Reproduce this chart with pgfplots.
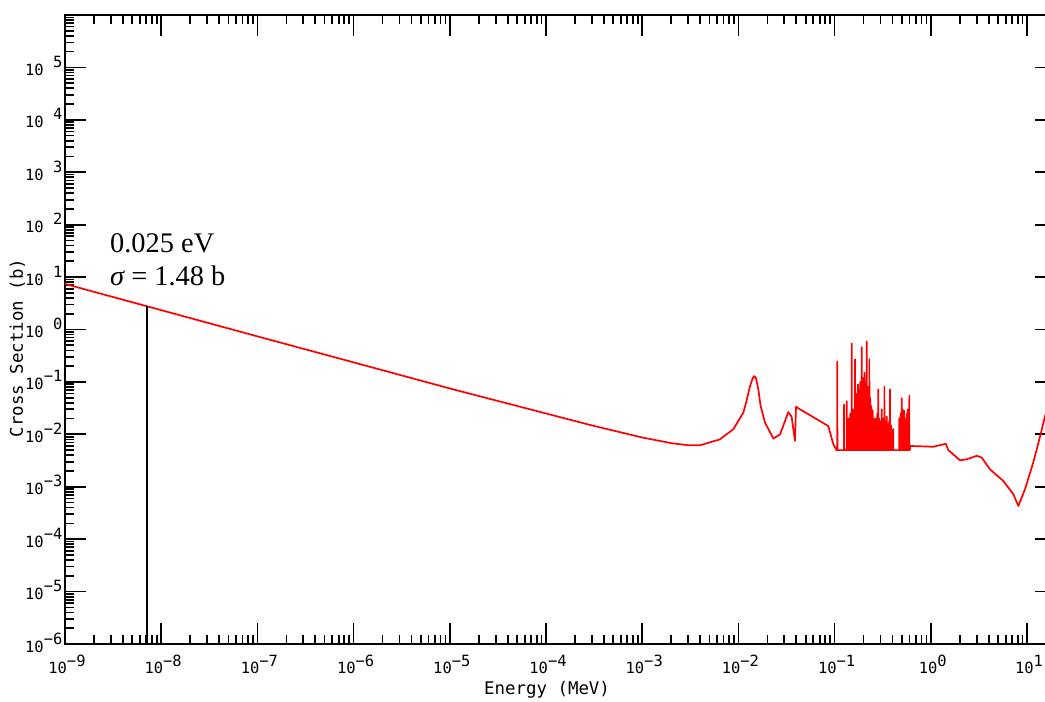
\documentclass[border=0pt]{standalone}
\usepackage{fontspec}
\setmainfont{Liberation Serif}
\newfontfamily\mono{DejaVu Sans Mono}
\usepackage{pgfplots}
\pgfplotsset{compat=1.18}
% x tick labels: centred on the tick
\newcommand\xl[1]{{\mono\fontsize{15.5}{16}\selectfont 10\raisebox{7bp}{#1}}}
% y tick labels: left aligned; positive exponent leaves the place of the sign empty
\newcommand\ylneg[1]{{\mono\fontsize{15.5}{16}\selectfont 10\raisebox{8bp}{−#1}}}
\newcommand\ylpos[1]{{\mono\fontsize{15.5}{16}\selectfont 10\raisebox{8bp}{\phantom{−}#1}}}
\begin{document}
\begin{tikzpicture}
\useasboundingbox (0,0) rectangle (1045bp,702bp);
\begin{axis}[
  at={(65bp,58bp)}, anchor=south west,
  scale only axis, width=991bp, height=629bp,
  xmode=log, ymode=log,
  xmin=1e-9, xmax=20, ymin=1e-6, ymax=1e6,
  xtick={1e-9,1e-8,1e-7,1e-6,1e-5,1e-4,1e-3,1e-2,1e-1,1,10},
  xticklabels={\xl{−9},\xl{−8},\xl{−7},\xl{−6},\xl{−5},\xl{−4},\xl{−3},\xl{−2},\xl{−1},\xl{0},\xl{1}},
  ytick={1e-6,1e-5,1e-4,1e-3,1e-2,1e-1,1,10,100,1000,1e4,1e5},
  yticklabels={\ylneg{6},\ylneg{5},\ylneg{4},\ylneg{3},\ylneg{2},\ylneg{1},\ylpos{0},\ylpos{1},\ylpos{2},\ylpos{3},\ylpos{4},\ylpos{5}},
  minor xtick={2e-9,3e-9,4e-9,5e-9,6e-9,7e-9,8e-9,9e-9,
    2e-8,3e-8,4e-8,5e-8,6e-8,7e-8,8e-8,9e-8,
    2e-7,3e-7,4e-7,5e-7,6e-7,7e-7,8e-7,9e-7,
    2e-6,3e-6,4e-6,5e-6,6e-6,7e-6,8e-6,9e-6,
    2e-5,3e-5,4e-5,5e-5,6e-5,7e-5,8e-5,9e-5,
    2e-4,3e-4,4e-4,5e-4,6e-4,7e-4,8e-4,9e-4,
    2e-3,3e-3,4e-3,5e-3,6e-3,7e-3,8e-3,9e-3,
    2e-2,3e-2,4e-2,5e-2,6e-2,7e-2,8e-2,9e-2,
    0.2,0.3,0.4,0.5,0.6,0.7,0.8,0.9,
    2,3,4,5,6,7,8,9},
  minor ytick={2e-6,3e-6,4e-6,5e-6,6e-6,7e-6,8e-6,9e-6,
    2e-5,3e-5,4e-5,5e-5,6e-5,7e-5,8e-5,9e-5,
    2e-4,3e-4,4e-4,5e-4,6e-4,7e-4,8e-4,9e-4,
    2e-3,3e-3,4e-3,5e-3,6e-3,7e-3,8e-3,9e-3,
    2e-2,3e-2,4e-2,5e-2,6e-2,7e-2,8e-2,9e-2,
    0.2,0.3,0.4,0.5,0.6,0.7,0.8,0.9,
    2,3,4,5,6,7,8,9,
    20,30,40,50,60,70,80,90,
    200,300,400,500,600,700,800,900,
    2e3,3e3,4e3,5e3,6e3,7e3,8e3,9e3,
    2e4,3e4,4e4,5e4,6e4,7e4,8e4,9e4,
    2e5,3e5,4e5,5e5,6e5,7e5,8e5,9e5},
  tick align=inside,
  xtick pos=both, ytick pos=both,
  xticklabel pos=lower, yticklabel pos=left,
  major tick length=21bp, minor tick length=9.5bp,
  every tick/.style={black, line width=1.7bp},
  axis line style={line width=2.4bp},
  xticklabel style={anchor=base, yshift=-29bp, xshift=2bp, inner sep=0pt},
  yticklabel style={anchor=base west, yshift=-8bp, xshift=-40bp, inner sep=0pt},
  xlabel={Energy (MeV)},
  ylabel={Cross Section (b)},
  xlabel style={at={(axis description cs:0.4864,-0.073)}, anchor=center, inner sep=0pt, font=\mono\fontsize{17.5}{18}\selectfont},
  ylabel style={at={(axis description cs:-0.0479,0.4706)}, anchor=center, inner sep=0pt, font=\mono\fontsize{17.5}{18}\selectfont},
]
\addplot[red, line width=1.7bp, line join=round] coordinates {
(1e-9,7.4) (1e-8,2.34) (1e-7,0.74) (1e-6,0.236) (1e-5,0.075) (1e-4,0.025)
(3e-4,0.0148) (1e-3,0.0087) (2e-3,0.0068) (3e-3,0.0062) (4e-3,0.0062)
(6.4e-3,0.008) (8.85e-3,0.0125) (1.125e-2,0.026) (1.2e-2,0.04) (1.32e-2,0.083)
(1.4e-2,0.115) (1.452e-2,0.129) (1.52e-2,0.12) (1.61e-2,0.072) (1.7e-2,0.035)
(1.89e-2,0.0167) (2.31e-2,0.0083) (2.71e-2,0.010) (3.3e-2,0.0266)
(3.57e-2,0.0217) (3.87e-2,0.0075) (3.97e-2,0.0337) (4.37e-2,0.030)
(8.59e-2,0.0144) (9.69e-2,0.0065) (0.1045,0.005)
(0.1065,0.005)(0.1067,0.245)(0.1069,0.005)
(0.125,0.005)(0.1253,0.037)(0.1256,0.005)
(0.1334,0.005)(0.1337,0.043)(0.134,0.005)
(0.1397,0.005)(0.14,0.02)(0.1403,0.005)
(0.1447,0.005)(0.145,0.025)(0.1453,0.005)
(0.1504,0.005)(0.1507,0.54)(0.151,0.005)
(0.1557,0.005)(0.156,0.03)(0.1563,0.005)
(0.1627,0.005)(0.163,0.27)(0.1633,0.005)
(0.1677,0.005)(0.168,0.05)(0.1683,0.005)
(0.1707,0.005)(0.171,0.06)(0.1713,0.005)
(0.1747,0.005)(0.175,0.089)(0.1753,0.005)
(0.1797,0.005)(0.18,0.07)(0.1803,0.005)
(0.1847,0.005)(0.185,0.1)(0.1853,0.005)
(0.1906,0.005)(0.191,0.46)(0.1914,0.005)
(0.1956,0.005)(0.196,0.12)(0.1964,0.005)
(0.1996,0.005)(0.2,0.11)(0.2004,0.005)
(0.2036,0.005)(0.204,0.151)(0.2044,0.005)
(0.2076,0.005)(0.208,0.09)(0.2084,0.005)
(0.2106,0.005)(0.211,0.1)(0.2114,0.005)
(0.2156,0.005)(0.216,0.59)(0.2164,0.005)
(0.2196,0.005)(0.22,0.06)(0.2204,0.005)
(0.2236,0.005)(0.224,0.08)(0.2244,0.005)
(0.2292,0.005)(0.2297,0.27)(0.2302,0.005)
(0.2335,0.005)(0.234,0.05)(0.2345,0.005)
(0.2395,0.005)(0.24,0.035)(0.2405,0.005)
(0.2435,0.005)(0.244,0.03)(0.2445,0.005)
(0.2485,0.005)(0.249,0.0275)(0.2495,0.005)
(0.2545,0.005)(0.255,0.02)(0.2555,0.005)
(0.2585,0.005)(0.259,0.018)(0.2595,0.005)
(0.2625,0.005)(0.263,0.0195)(0.2635,0.005)
(0.2675,0.005)(0.268,0.02)(0.2685,0.005)
(0.2725,0.005)(0.273,0.017)(0.2735,0.005)
(0.2775,0.005)(0.278,0.025)(0.2785,0.005)
(0.2835,0.005)(0.284,0.072)(0.2845,0.005)
(0.2895,0.005)(0.29,0.02)(0.2905,0.005)
(0.2955,0.005)(0.296,0.018)(0.2965,0.005)
(0.3015,0.005)(0.302,0.015)(0.3025,0.005)
(0.3085,0.005)(0.309,0.03)(0.3095,0.005)
(0.3145,0.005)(0.315,0.016)(0.3155,0.005)
(0.3215,0.005)(0.322,0.02)(0.3225,0.005)
(0.3285,0.005)(0.329,0.081)(0.3295,0.005)
(0.3355,0.005)(0.336,0.018)(0.3365,0.005)
(0.3415,0.005)(0.342,0.015)(0.3425,0.005)
(0.3475,0.005)(0.348,0.022)(0.3485,0.005)
(0.3545,0.005)(0.355,0.016)(0.3555,0.005)
(0.3615,0.005)(0.362,0.014)(0.3625,0.005)
(0.3695,0.005)(0.37,0.018)(0.3705,0.005)
(0.3765,0.005)(0.377,0.072)(0.3775,0.005)
(0.3845,0.005)(0.385,0.015)(0.3855,0.005)
(0.3945,0.005)(0.395,0.012)(0.3955,0.005)
(0.4065,0.005)(0.407,0.0126)(0.4075,0.005)
(0.4695,0.005)(0.47,0.02)(0.4705,0.005)
(0.4845,0.005)(0.485,0.025)(0.4855,0.005)
(0.4985,0.005)(0.499,0.049)(0.4995,0.005)
(0.5095,0.005)(0.51,0.03)(0.5105,0.005)
(0.5195,0.005)(0.52,0.022)(0.5205,0.005)
(0.5295,0.005)(0.53,0.028)(0.5305,0.005)
(0.5395,0.005)(0.54,0.017)(0.5405,0.005)
(0.5545,0.005)(0.555,0.02)(0.5555,0.005)
(0.5645,0.005)(0.565,0.025)(0.5655,0.005)
(0.5745,0.005)(0.575,0.03)(0.5755,0.005)
(0.5845,0.005)(0.585,0.02)(0.5855,0.005)
(0.5975,0.005)(0.598,0.055)(0.5985,0.005)
(0.605,0.005) (0.61,0.006) (1.06,0.0058) (1.35,0.00645) (1.43,0.0066)
(1.52,0.005) (2.01,0.0032) (2.36,0.00334) (3.0,0.0039) (3.38,0.0036)
(4.12,0.00215) (5.67,0.00129) (7.2,0.00072) (8.12,0.00043) (9.53,0.0009)
(11.6,0.0029) (13.7,0.0093) (15.4,0.0224) (17,0.04) (20,0.06)
};
\addplot[black, line width=2bp] coordinates {(7.06e-9,1e-6) (7.06e-9,2.8)};
\node[anchor=base west, inner sep=0pt, font=\fontsize{28.5}{30}\selectfont] at (rel axis cs:0.0454,0.6232) {0.025 eV};
\node[anchor=base west, inner sep=0pt, font=\fontsize{28.5}{30}\selectfont] at (rel axis cs:0.0454,0.5692) {{\itshape σ} = 1.48 b};
\end{axis}
\end{tikzpicture}
\end{document}
